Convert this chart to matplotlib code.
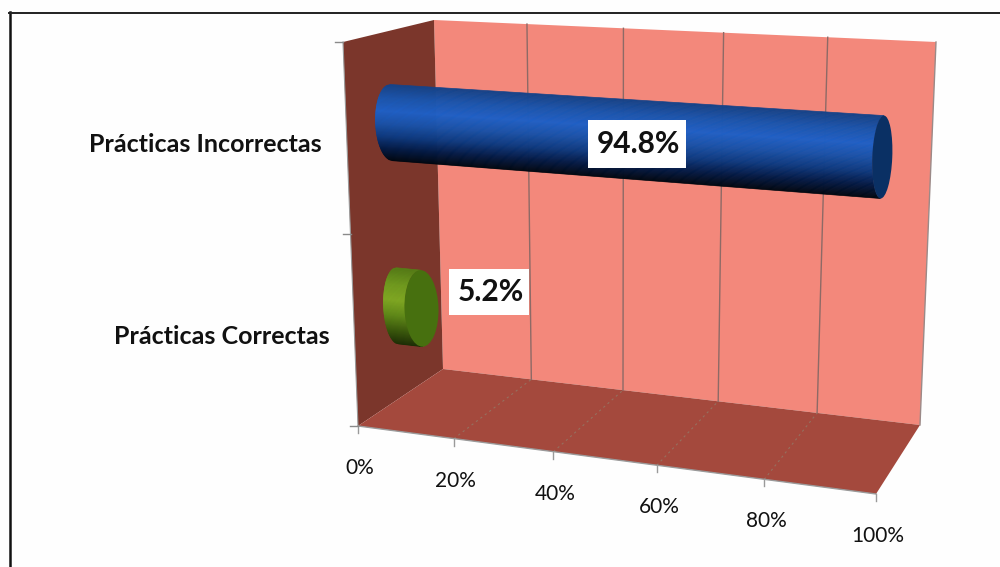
import numpy as np
import matplotlib
matplotlib.use("Agg")
import matplotlib.pyplot as plt
from matplotlib.colors import LinearSegmentedColormap
from matplotlib.patches import Ellipse, Polygon, Rectangle

plt.rcParams['font.family'] = ['Lato', 'DejaVu Sans']

categories = ["Prácticas Correctas", "Prácticas Incorrectas"]
values = [5.2, 94.8]
value_labels = ["5.2%", "94.8%"]
x_ticks = [0, 20, 40, 60, 80, 100]
x_tick_labels = ["0%", "20%", "40%", "60%", "80%", "100%"]

# box corners in pixels, named (value, height, depth)
C000 = np.array([358.0, 426.0])
C010 = np.array([343.0, 42.0])
C001 = np.array([443.0, 369.0])
C011 = np.array([434.0, 20.0])
C101 = np.array([920.0, 425.0])
C111 = np.array([936.0, 42.0])
C100 = np.array([876.0, 494.0])
C110 = np.array([897.0, 76.0])


def warp(v):
    t = v / 100.0
    return t / (t + 1.1 * (1 - t))


def proj(v, h, d):
    u = warp(v)
    left = (C000 * (1 - h) + C010 * h) * (1 - d) + (C001 * (1 - h) + C011 * h) * d
    right = (C100 * (1 - h) + C110 * h) * (1 - d) + (C101 * (1 - h) + C111 * h) * d
    return left * (1 - u) + right * u


def face(ax, pts, color, z=1):
    ax.add_patch(Polygon(pts, closed=True, facecolor=color, edgecolor='none', zorder=z))


def line(ax, a, b, color, lw=1.0, ls='-', z=2):
    ax.plot([a[0], b[0]], [a[1], b[1]], color=color, lw=lw, ls=ls, zorder=z)


def cylinder(ax, value, h, cmap, cap_color, w0, w1, z):
    # stacked strips across the bar, dark at both edges
    radius = 0.104
    n = 70
    ss = np.linspace(-1, 1, n + 1)
    for s0, s1 in zip(ss[:-1], ss[1:]):
        a0 = proj(0, h + radius * s0, 0.5)
        a1 = proj(0, h + radius * s1, 0.5)
        b0 = proj(value, h + radius * s0, 0.5)
        b1 = proj(value, h + radius * s1, 0.5)
        k0 = np.sqrt(max(0, 1 - s0 * s0))
        k1 = np.sqrt(max(0, 1 - s1 * s1))
        pts = [a0 - [w0 * k0, 0], b0 - [w1 * k0, 0], b1 - [w1 * k1, 0], a1 - [w0 * k1, 0]]
        col = cmap(0.5 - (s0 + s1) / 4)
        ax.add_patch(Polygon(pts, closed=True, facecolor=col, edgecolor=col, lw=0.5, zorder=z))
    top = proj(value, h + radius, 0.5)
    bot = proj(value, h - radius, 0.5)
    mid = (top + bot) / 2
    height = np.hypot(*(top - bot))
    angle = np.degrees(np.arctan2(top[0] - bot[0], bot[1] - top[1]))
    ax.add_patch(Ellipse(mid, 2 * w1, height, angle=angle, facecolor=cap_color,
                         edgecolor='none', zorder=z + 0.5))


fig = plt.figure(figsize=(10, 5.67), dpi=100, facecolor='#fefefe')
ax = fig.add_axes([0, 0, 1, 1])
ax.set_xlim(0, 1000)
ax.set_ylim(567, 0)
ax.axis('off')

# page frame
ax.plot([9.5, 9.5], [567, 12], color='#111111', lw=1.8, zorder=6)
ax.plot([9, 1000], [13, 13], color='#222222', lw=1.4, zorder=6)

# walls and floor
face(ax, [C001, C011, C111, C101], '#f3887b')
face(ax, [C000, C010, C011, C001], '#7b362b')
face(ax, [C000, C001, C101, C100], '#a4493d')

for t in x_ticks[1:-1]:
    line(ax, proj(t, 0, 1), proj(t, 1, 1), '#8d6a66', 1.0)
    line(ax, proj(t, 0, 0), proj(t, 0, 1), '#96705f', 0.8, ls=(0, (2, 3)))
line(ax, C101, C111, '#9b8a88', 1.0)
line(ax, C000, C100, '#9a9a9a', 1.0)
line(ax, C000, C010, '#9a9a9a', 0.8)

# axis ticks and labels
for t, lab in zip(x_ticks, x_tick_labels):
    p = proj(t, 0, 0)
    line(ax, p, p + [0, 7], '#9a9a9a', 1.0)
    ax.text(p[0] + 2, p[1] + 42, lab, ha='center', va='center', fontsize=15, color='#111111', zorder=7)
for h in [0, 0.5, 1]:
    p = proj(0, h, 0)
    line(ax, p - [8, 0], p, '#8a8a8a', 1.0)

blues = LinearSegmentedColormap.from_list('blues', ['#164388', '#1b55ad', '#1f60c6', '#1a52a8', '#0e3a80', '#031a45', '#01070f'])
greens = LinearSegmentedColormap.from_list('greens', ['#557c16', '#6f9a1e', '#7fa822', '#5f8a18', '#3a5a0c', '#1b2c05'])

for i, (name, val, lab) in enumerate(zip(categories, values, value_labels)):
    h = 0.25 + 0.5 * i
    if i == 1:
        cylinder(ax, val, h, blues, '#0a3064', 16, 10, 3)
        ax.add_patch(Rectangle((588, 120), 98, 48, facecolor='white', edgecolor='none', zorder=7.5))
        ax.text(638, 144, lab, ha='center', va='center', fontsize=21.5, fontweight='bold', color='#111111', zorder=8)
        ax.text(322, 144, name, ha='right', va='center', fontsize=18, fontweight='bold', color='#111111', zorder=7)
    else:
        cylinder(ax, val, h, greens, '#47700f', 14, 17, 3)
        ax.add_patch(Rectangle((449, 269), 80, 46, facecolor='white', edgecolor='none', zorder=7.5))
        ax.text(491, 292, lab, ha='center', va='center', fontsize=21.5, fontweight='bold', color='#111111', zorder=8)
        ax.text(330, 337, name, ha='right', va='center', fontsize=18, fontweight='bold', color='#111111', zorder=7)

fig.savefig("out.png", dpi=100, facecolor=fig.get_facecolor())
